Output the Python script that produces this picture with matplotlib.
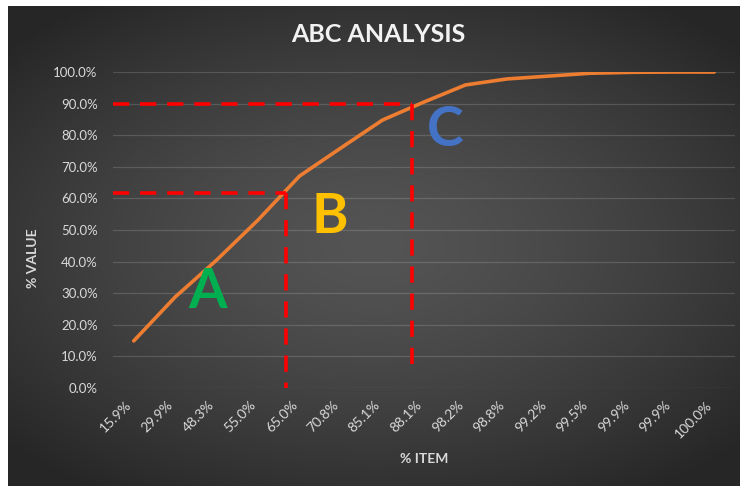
import numpy as np
import matplotlib
matplotlib.use('Agg')
import matplotlib.pyplot as plt

plt.rcParams['font.family'] = ['Lato', 'DejaVu Sans']

# データ
item_labels = ['15.9%', '29.9%', '48.3%', '55.0%', '65.0%', '70.8%', '85.1%', '88.1%',
               '98.2%', '98.8%', '99.2%', '99.5%', '99.9%', '99.9%', '100.0%']
cum_value = [14.9, 28.8, 40.5, 53.2, 67.1, 76.0, 84.8, 90.5,
             95.9, 97.8, 98.7, 99.6, 99.9, 100.0, 100.0]
y_ticks = [0, 10, 20, 30, 40, 50, 60, 70, 80, 90, 100]

# A/B/C の境界 (カテゴリ位置, 累積%)
cut_a = (3.67, 61.8)
cut_b = (6.70, 90.0)
class_labels = ['A', 'B', 'C']
class_pos = [(1.79, 30.4), (4.74, 54.1), (7.52, 81.6)]
class_colors = ['#00B050', '#FFC000', '#4472C4']

W, H = 740, 486
fig = plt.figure(figsize=(W / 100, H / 100), dpi=100, facecolor='white')

# 背景のグラデーション
bg = fig.add_axes([8 / W, 0, (W - 8) / W, (H - 6) / H])
bg.axis('off')
yy, xx = np.mgrid[-1:1:300j, -1:1:400j]
r = np.sqrt((xx * 0.95) ** 2 + (yy * 1.05) ** 2)
r = np.clip(r / 1.3, 0, 1)
c0, c1 = np.array([0x54, 0x54, 0x54]) / 255, np.array([0x26, 0x26, 0x26]) / 255
img = c0 + (c1 - c0) * (r[..., None] ** 1.4)
bg.imshow(img, aspect='auto', extent=[0, 1, 0, 1])
bg.set_xlim(0, 1)
bg.set_ylim(0, 1)

ax = fig.add_axes([113 / W, (H - 388) / H, 622 / W, 316 / H])
ax.patch.set_alpha(0)
x = np.arange(len(item_labels))

ax.set_xlim(-0.5, len(item_labels) - 0.5)
ax.set_ylim(0, 100)
ax.set_yticks(y_ticks)
ax.set_yticklabels([f'{v:.1f}%' for v in y_ticks])
ax.set_xticks(x)
ax.set_xticklabels(item_labels, rotation=45, ha='right', va='top', rotation_mode='default')
ax.tick_params(axis='both', length=0, colors='#d9d9d9')
ax.tick_params(axis='y', pad=11, labelsize=9.5)
ax.tick_params(axis='x', pad=8, labelsize=10)
for s in ax.spines.values():
    s.set_visible(False)
ax.grid(axis='y', color='white', alpha=0.15, lw=0.9)
ax.set_axisbelow(True)

# 累積曲線
ax.plot(x, cum_value, color='#ED7D31', lw=2.6, solid_capstyle='round', solid_joinstyle='round', zorder=3)

# 境界の赤い破線
dash = dict(color='#FF0000', lw=2.6, linestyle=(0, (4.5, 3)), zorder=4, clip_on=False)
ax.plot([-0.5, cut_a[0]], [cut_a[1], cut_a[1]], **dash)
ax.plot([cut_a[0], cut_a[0]], [cut_a[1], 0], **dash)
ax.plot([-0.5, cut_b[0]], [cut_b[1], cut_b[1]], **dash)
ax.plot([cut_b[0], cut_b[0]], [cut_b[1], 5], **dash)

for lab, (px, py), col in zip(class_labels, class_pos, class_colors):
    ax.text(px, py, lab, color=col, fontsize=40, fontweight='bold', ha='center', va='center', zorder=5)

fig.text(378 / W, 1 - 35 / H, 'ABC ANALYSIS', color='#f2f2f2', fontsize=18, fontweight='bold',
         ha='center', va='center')
fig.text(424 / W, 1 - 459 / H, '% ITEM', color='#d9d9d9', fontsize=10, fontweight='bold',
         ha='center', va='center')
fig.text(33 / W, 1 - 258 / H, '% VALUE', color='#d9d9d9', fontsize=10, fontweight='bold',
         ha='center', va='center', rotation=90)

fig.savefig('out.png', dpi=100, facecolor='white')
